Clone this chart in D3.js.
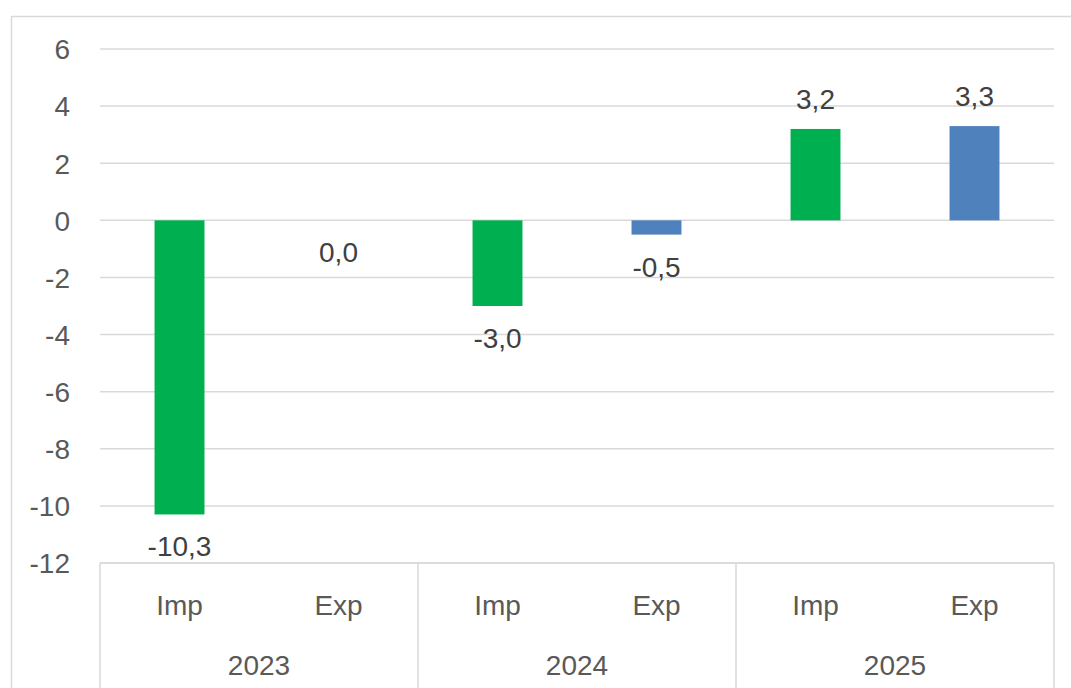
<!DOCTYPE html>
<html>
<head>
<meta charset="utf-8">
<script src="https://cdn.jsdelivr.net/npm/d3@7"></script>
<style>
  html, body { margin: 0; padding: 0; background: #ffffff; }
  svg { display: block; font-family: "Liberation Sans", Arial, sans-serif; }
</style>
</head>
<body>
<svg id="chart" width="1071" height="688"></svg>
<script>
// Change in volume (%), by year and trade flow
const years = ["2023", "2024", "2025"];
const flows = ["Imp", "Exp"];
const impValues = [-10.3, -3.0, 3.2];
const expValues = [0.0, -0.5, 3.3];
const yTicks = [6, 4, 2, 0, -2, -4, -6, -8, -10, -12];

const flowColor = { Imp: "#00B050", Exp: "#4F81BD" };

const rows = [];
years.forEach((yr, i) => {
  rows.push({ year: yr, flow: "Imp", value: impValues[i] });
  rows.push({ year: yr, flow: "Exp", value: expValues[i] });
});
rows.forEach(d => d.key = d.year + "|" + d.flow);

const W = 1071, H = 688;
const plot = { left: 100, right: 1054, top: 49, bottom: 563 };
const FS = "28px";

const svg = d3.select("#chart");

// outer chart frame
svg.append("rect")
  .attr("x", 11.5).attr("y", 16.5)
  .attr("width", W + 20).attr("height", H + 20)
  .attr("fill", "#ffffff")
  .attr("stroke", "#d9d9d9").attr("stroke-width", 1.5);

const y = d3.scaleLinear().domain([-12, 6]).range([plot.bottom, plot.top]);

const x = d3.scaleBand()
  .domain(rows.map(d => d.key))
  .range([plot.left, plot.right])
  .paddingInner(0.686)
  .paddingOuter(0.343);

const xYear = d3.scaleBand().domain(years).range([plot.left, plot.right]);

const locale = d3.formatLocale({ decimal: ",", thousands: " ", grouping: [3], currency: ["", ""], minus: "-" });
const fmt = locale.format(".1f");
const fmtTick = locale.format("d");

// gridlines
svg.append("g")
  .selectAll("line")
  .data(yTicks)
  .join("line")
  .attr("x1", plot.left).attr("x2", plot.right)
  .attr("y1", d => y(d)).attr("y2", d => y(d))
  .attr("stroke", "#d9d9d9").attr("stroke-width", 1.5);

// value axis labels
const yAxis = d3.axisLeft(y).tickValues(yTicks).tickSize(0).tickPadding(0).tickFormat(fmtTick);
const yG = svg.append("g").attr("transform", "translate(70,0)").call(yAxis);
yG.select(".domain").remove();
yG.selectAll("text")
  .attr("fill", "#595959")
  .style("font-size", FS)
  .attr("dy", "0.35em");

// bars
svg.append("g")
  .selectAll("rect")
  .data(rows)
  .join("rect")
  .attr("x", d => x(d.key))
  .attr("width", x.bandwidth())
  .attr("y", d => y(Math.max(0, d.value)))
  .attr("height", d => Math.abs(y(d.value) - y(0)))
  .attr("fill", d => flowColor[d.flow]);

// data labels
svg.append("g")
  .selectAll("text")
  .data(rows)
  .join("text")
  .attr("x", d => x(d.key) + x.bandwidth() / 2)
  .attr("y", d => d.value > 0 ? y(d.value) - 20 : y(d.value) + 42)
  .attr("text-anchor", "middle")
  .attr("fill", "#404040")
  .style("font-size", FS)
  .text(d => fmt(d.value));

// category axis: frame lines
const cat = svg.append("g");
cat.append("line")
  .attr("x1", plot.left).attr("x2", plot.right)
  .attr("y1", plot.bottom).attr("y2", plot.bottom)
  .attr("stroke", "#d9d9d9").attr("stroke-width", 1.5);
const seps = years.map(yr => xYear(yr)).concat([plot.right]);
cat.selectAll("line.sep")
  .data(seps)
  .join("line")
  .attr("class", "sep")
  .attr("x1", d => d).attr("x2", d => d)
  .attr("y1", plot.bottom).attr("y2", H + 5)
  .attr("stroke", "#d9d9d9").attr("stroke-width", 1.5);

// flow labels
cat.selectAll("text.flow")
  .data(rows)
  .join("text")
  .attr("class", "flow")
  .attr("x", d => x(d.key) + x.bandwidth() / 2)
  .attr("y", 615)
  .attr("text-anchor", "middle")
  .attr("fill", "#595959")
  .style("font-size", FS)
  .text(d => d.flow);

// year labels
cat.selectAll("text.year")
  .data(years)
  .join("text")
  .attr("class", "year")
  .attr("x", d => xYear(d) + xYear.bandwidth() / 2)
  .attr("y", 675)
  .attr("text-anchor", "middle")
  .attr("fill", "#595959")
  .style("font-size", FS)
  .text(d => d);
</script>
</body>
</html>
